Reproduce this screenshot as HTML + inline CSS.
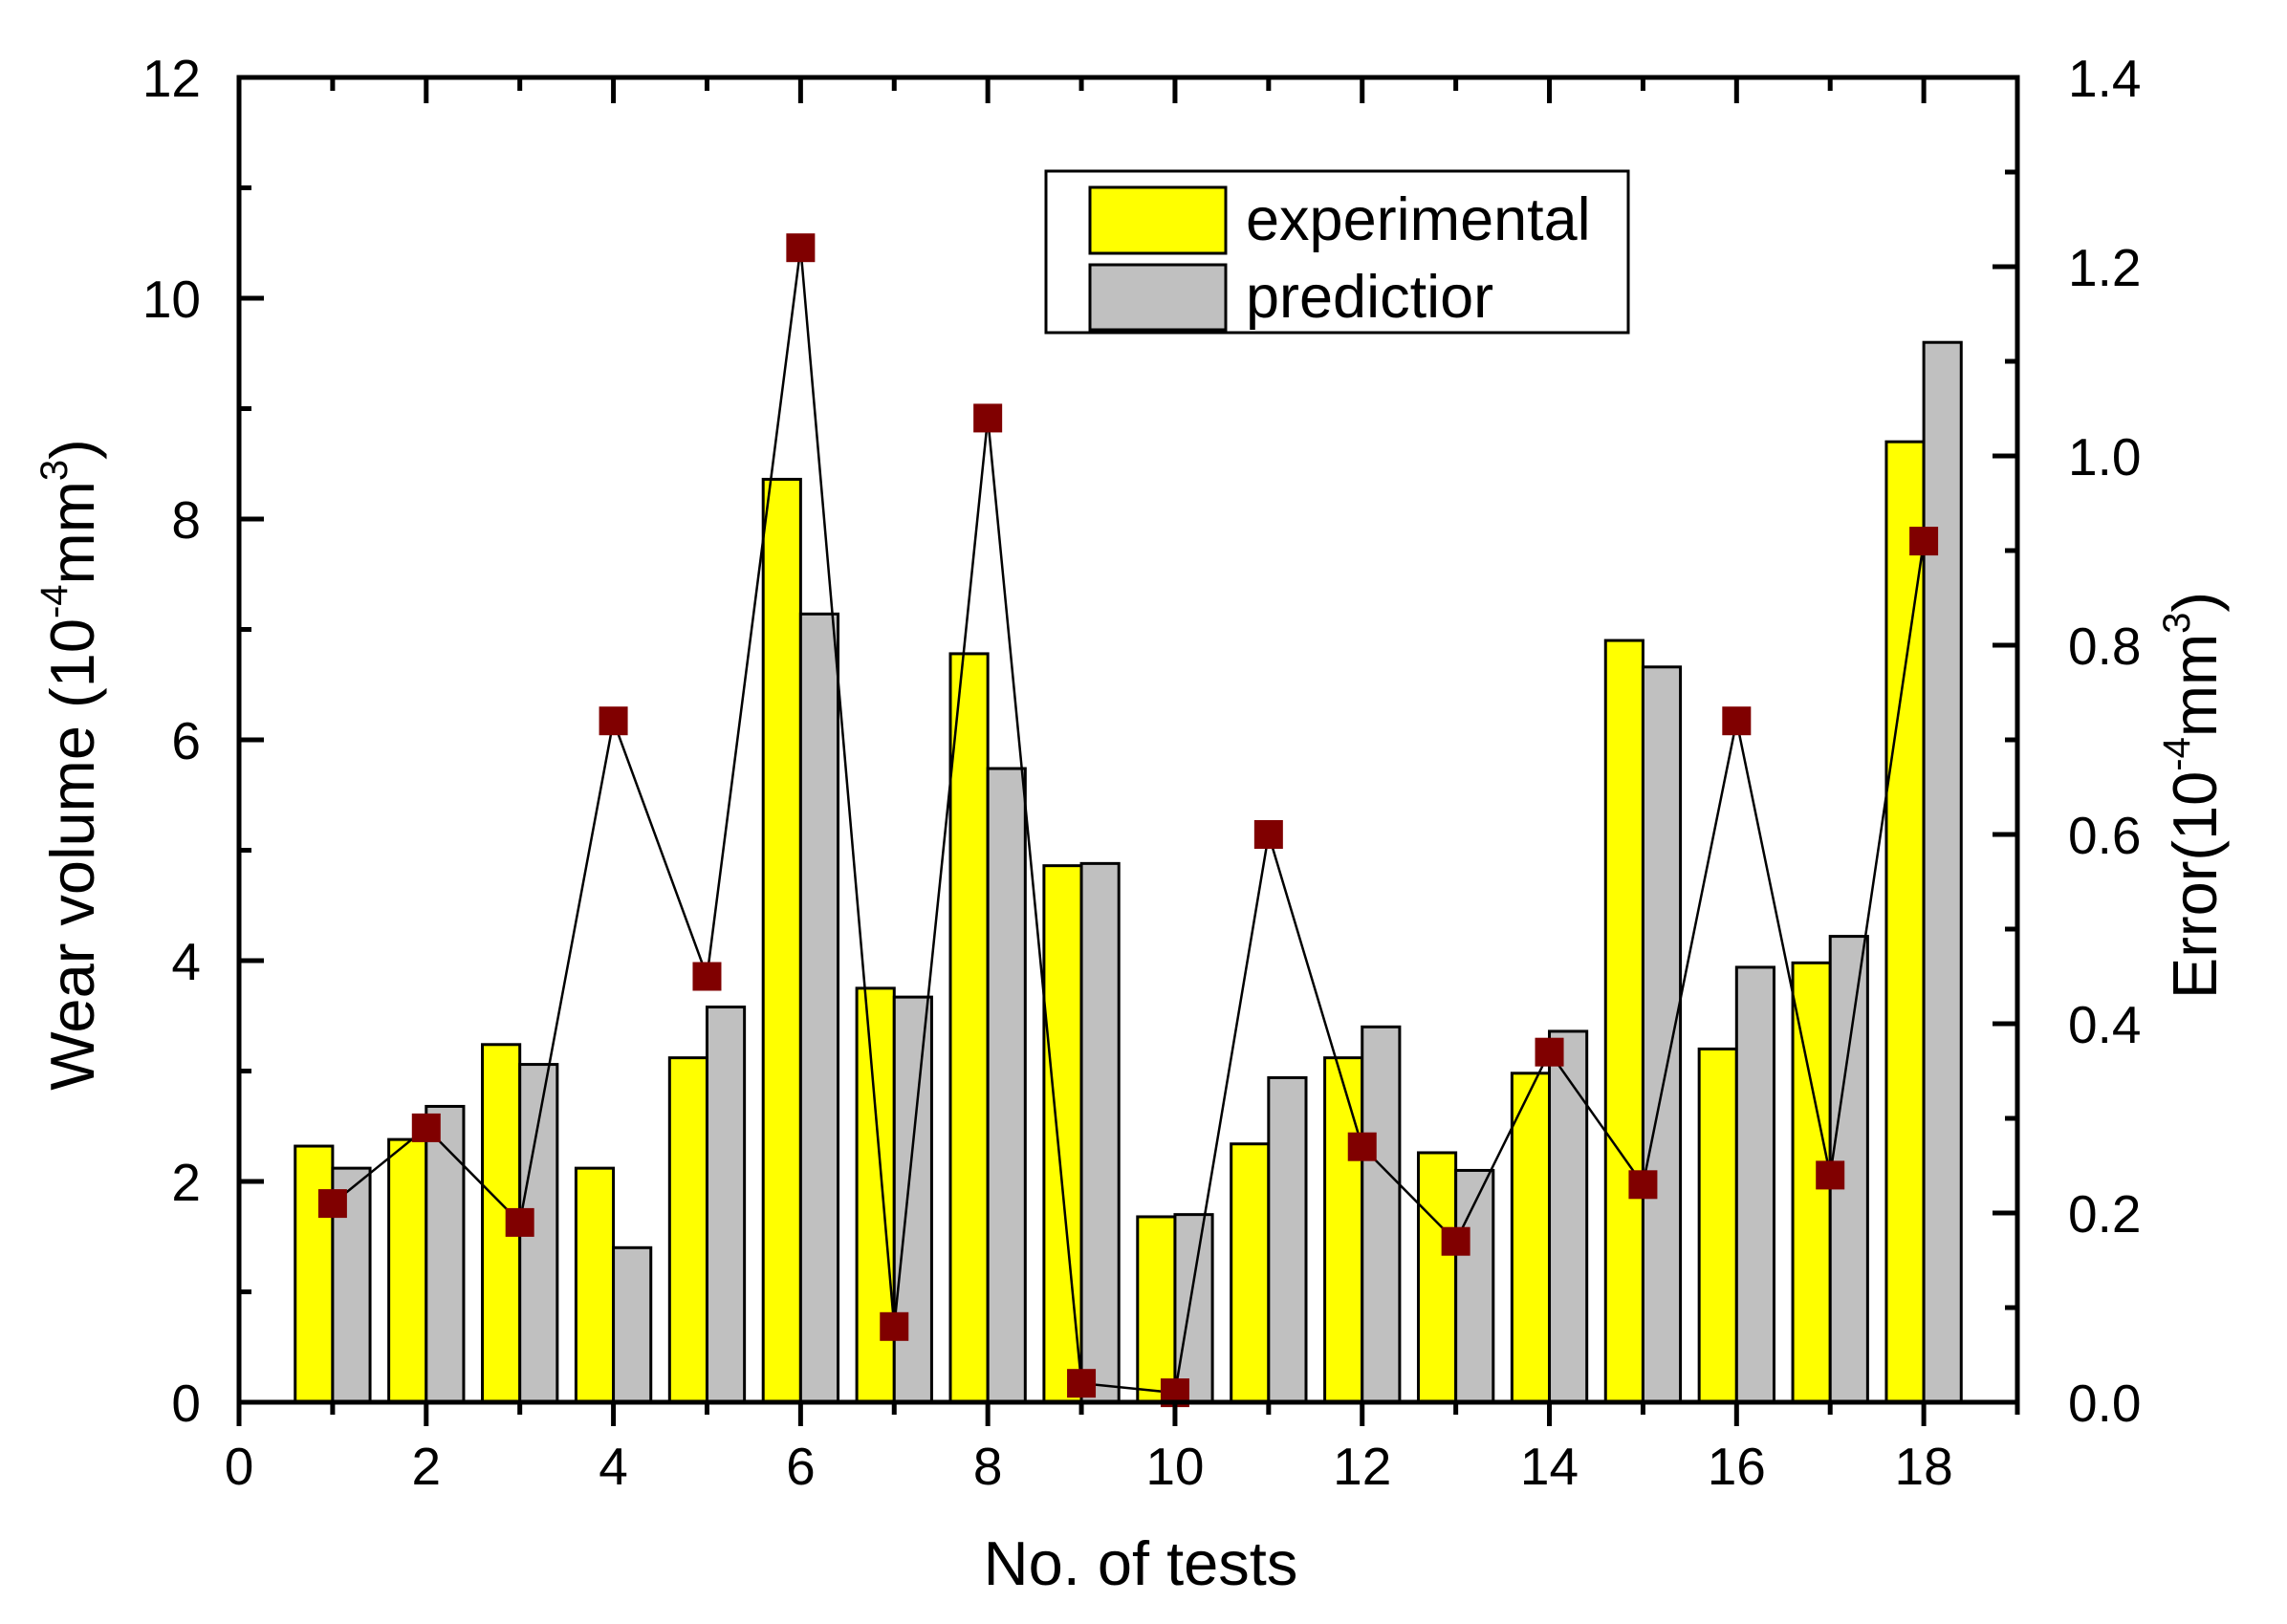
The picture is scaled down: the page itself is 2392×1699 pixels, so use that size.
<!DOCTYPE html>
<html><head><meta charset="utf-8"><style>
html,body{margin:0;padding:0;background:#fff;}
svg text{font-family:"Liberation Sans",Arial,sans-serif;fill:#000;}
</style></head><body>
<svg id="chart" width="2392" height="1694" viewBox="0 0 2392 1694" xmlns="http://www.w3.org/2000/svg">
<g id="bars"></g>
<g id="err"></g>
<g id="axes"></g>
<text x="1193" y="1658" font-size="65" text-anchor="middle">No. of tests</text>
<text transform="translate(98,800) rotate(-90)" font-size="65" text-anchor="middle">Wear volume (10<tspan font-size="40" dy="-28">-4</tspan><tspan dy="28">mm</tspan><tspan font-size="40" dy="-28">3</tspan><tspan dy="28">)</tspan></text>
<text transform="translate(2318,832) rotate(-90)" font-size="65" text-anchor="middle">Error(10<tspan font-size="40" dy="-28">-4</tspan><tspan dy="28">mm</tspan><tspan font-size="40" dy="-28">3</tspan><tspan dy="28">)</tspan></text>
<g>
<rect x="1094" y="179" width="609" height="169" fill="#fff" stroke="#000" stroke-width="3"/>
<rect x="1140" y="196" width="142" height="69" fill="#ffff00" stroke="#000" stroke-width="3"/>
<text x="1303" y="251" font-size="63">experimental</text>
<rect x="1140" y="277" width="142" height="68" fill="#c0c0c0" stroke="#000" stroke-width="3"/>
<text x="1303" y="332" font-size="63">predictior</text>
</g>
</svg>
<script>
const tests = [1,2,3,4,5,6,7,8,9,10,11,12,13,14,15,16,17,18];
const experimental = [2.32,2.38,3.24,2.12,3.12,8.36,3.75,6.78,4.86,1.68,2.34,3.12,2.26,2.98,6.9,3.2,3.98,8.7];
const predicted = [2.12,2.68,3.06,1.4,3.58,7.14,3.67,5.74,4.88,1.7,2.94,3.4,2.1,3.36,6.66,3.94,4.22,9.6];
const errors = [0.21,0.29,0.19,0.72,0.45,1.22,0.08,1.04,0.02,0.01,0.60,0.27,0.17,0.37,0.23,0.72,0.24,0.91];
const xTicks = [0,2,4,6,8,10,12,14,16,18];
const yTicks = [0,2,4,6,8,10,12];
const y2Ticks = ["0.0","0.2","0.4","0.6","0.8","1.0","1.2","1.4"];

const L=250,R=2110,T=81,B=1467;
const xS=v=>L+(v/19)*(R-L);
const yS=v=>B-(v/12)*(B-T);
const y2S=v=>B-(v/1.4)*(B-T);
const NS="http://www.w3.org/2000/svg";
function mk(tag,attrs,parent){const e=document.createElementNS(NS,tag);for(const k in attrs)e.setAttribute(k,attrs[k]);parent.appendChild(e);return e;}
const bars=document.getElementById('bars'),errG=document.getElementById('err'),axes=document.getElementById('axes');
const bw=0.4*(R-L)/19;
tests.forEach((t,i)=>{
  const x=xS(t);
  const r1=mk('rect',{x:x-bw,y:yS(experimental[i]),width:bw,height:B-yS(experimental[i]),fill:'#ffff00',stroke:'#000','stroke-width':3},bars);
  
  
  const r2=mk('rect',{x:x,y:yS(predicted[i]),width:bw,height:B-yS(predicted[i]),fill:'#c0c0c0',stroke:'#000','stroke-width':3},bars);
  
  
});
const pl=mk('polyline',{points:tests.map((t,i)=>xS(t)+','+y2S(errors[i])).join(' '),fill:'none',stroke:'#000','stroke-width':2.5},errG);


tests.forEach((t,i)=>{
  const m=mk('rect',{x:xS(t)-15,y:y2S(errors[i])-15,width:30,height:30,fill:'#800000'},errG);
  
  
});
const fr=mk('rect',{x:L,y:T,width:R-L,height:B-T,fill:'none',stroke:'#000','stroke-width':5},axes);


for(let v=0;v<=19;v++){
  const maj=v%2===0;
  mk('line',{x1:xS(v),x2:xS(v),y1:B,y2:B+(maj?25:13),stroke:'#000','stroke-width':5},axes);
  mk('line',{x1:xS(v),x2:xS(v),y1:T,y2:T+(maj?27:14),stroke:'#000','stroke-width':5},axes);
}
xTicks.forEach(v=>{
  const tx=mk('text',{x:xS(v),y:1553,'font-size':55,'text-anchor':'middle'},axes);
  tx.textContent=v;
  
  
});
for(let v=0;v<=12;v++){
  const maj=v%2===0;
  mk('line',{x1:L,x2:L+(maj?26:13),y1:yS(v),y2:yS(v),stroke:'#000','stroke-width':5},axes);
}
yTicks.forEach(v=>{
  const tx=mk('text',{x:210,y:yS(v)+20,'font-size':55,'text-anchor':'end'},axes);
  tx.textContent=v;
  
  
});
for(let k=0;k<=14;k++){
  const v=k*0.1,maj=k%2===0;
  mk('line',{x1:R,x2:R-(maj?26:13),y1:y2S(v),y2:y2S(v),stroke:'#000','stroke-width':5},axes);
}
y2Ticks.forEach(s=>{
  const tx=mk('text',{x:2163,y:y2S(parseFloat(s))+20,'font-size':55},axes);
  tx.textContent=s;
  
  
});
</script>
</body></html>
